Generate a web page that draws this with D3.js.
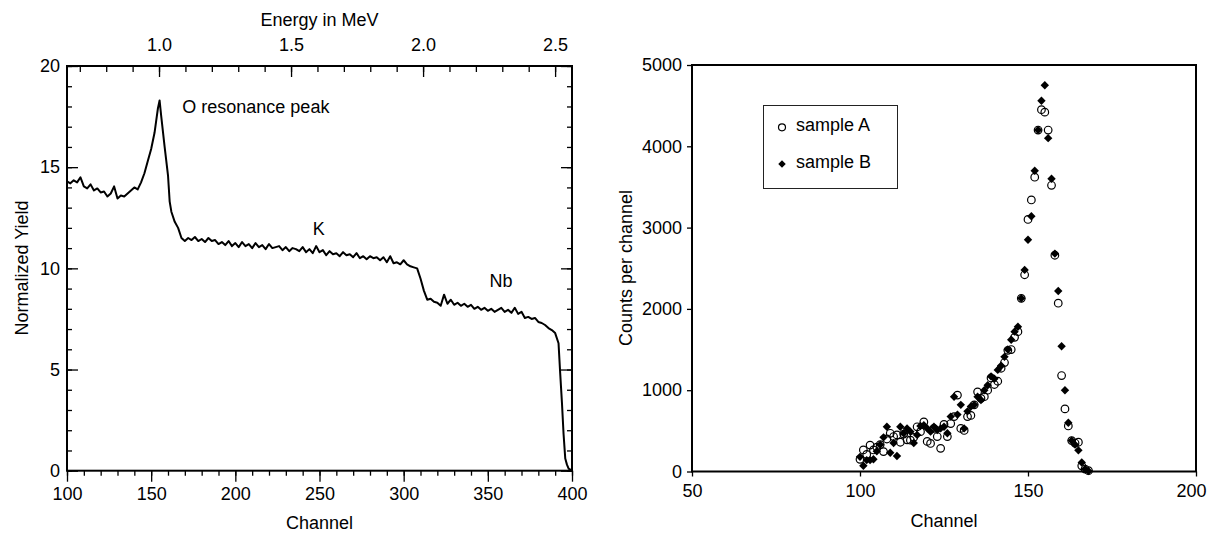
<!DOCTYPE html>
<html>
<head>
<meta charset="utf-8">
<script src="https://cdn.jsdelivr.net/npm/d3@7"></script>
<style>
  body { margin: 0; background: #fff; }
  svg { display: block; }
  text { font-family: "Liberation Sans", Arial, Helvetica, sans-serif; font-size: 18px; fill: #000; }
</style>
</head>
<body>
<svg id="chart" width="1210" height="533"></svg>
<script>
// left panel: normalized yield spectrum
var spectrumChannels = [100,102,104,106,108,110,112,114,116,118,120,122,124,126,128,130,132,134,136,138,
  140,142,144,146,148,150,152,153,154,155,156,158,160,161,162,164,166,168,170,172,174,176,178,180,
  182,184,186,188,190,192,194,196,198,200,202,204,206,208,210,212,214,216,218,220,222,224,226,228,
  230,232,234,236,238,240,242,244,246,248,250,252,254,256,258,260,262,264,266,268,270,272,274,276,
  278,280,282,284,286,288,290,292,294,296,298,300,302,304,306,308,310,312,314,316,318,320,322,324,
  326,328,330,332,334,336,338,340,342,344,346,348,350,352,354,356,358,360,362,364,366,368,370,372,
  374,376,378,380,382,384,386,388,390,392,393,394,395,396,397,398,399,400];
var spectrumYield = [14.3,14.2,14.35,14.25,14.5,14.05,13.95,14.15,13.85,13.95,13.75,13.8,13.55,13.7,14.05,13.45,13.6,13.55,13.7,13.85,
  14.0,13.9,14.25,14.7,15.3,15.9,16.7,17.3,17.9,18.3,17.5,16.0,14.6,13.3,12.8,12.3,12.0,11.5,11.35,11.5,11.4,11.55,11.35,11.45,
  11.3,11.5,11.35,11.4,11.2,11.3,11.15,11.35,11.1,11.25,11.05,11.3,11.1,11.2,11.0,11.25,11.05,11.15,10.95,11.2,11.0,11.05,11.1,10.9,
  11.05,10.85,11.0,10.95,10.85,11.05,10.8,10.95,10.75,11.1,10.8,10.9,10.65,10.85,10.7,10.75,10.6,10.8,10.65,10.7,10.55,10.75,10.5,10.6,
  10.45,10.6,10.5,10.55,10.4,10.55,10.3,10.6,10.25,10.3,10.2,10.4,10.2,10.1,10.05,10.0,9.5,8.9,8.45,8.5,8.35,8.3,8.15,8.7,
  8.25,8.45,8.2,8.3,8.15,8.25,8.1,8.2,8.0,8.1,7.95,8.05,7.9,8.0,7.85,7.95,8.05,7.85,7.95,7.8,8.05,7.75,7.85,7.55,
  7.6,7.5,7.55,7.35,7.3,7.2,7.05,6.95,6.8,6.3,4.8,3.4,1.8,0.6,0.3,0.1,0.05,0.05];
var yieldTicks = [0,5,10,15,20];
var channelTicksLeft = [100,150,200,250,300,350,400];
var energyTicks = [1.0,1.5,2.0,2.5];
var peakLabels = [
  {text: "O resonance peak", channel: 168.5, value: 17.66},
  {text: "K", channel: 246, value: 11.66},
  {text: "Nb", channel: 351, value: 9.09}
];

// right panel: counts per channel for two samples
var sampleChannels = [100,101,102,103,104,105,106,107,108,109,110,111,112,113,114,115,116,117,118,119,
  120,121,122,123,124,125,126,127,128,129,130,131,132,133,134,135,136,137,138,139,140,141,142,143,
  144,145,146,147,148,149,150,151,152,153,154,155,156,157,158,159,160,161,162,163,164,165,166,167,168];
var sampleA = [150,265,210,325,265,300,330,245,400,470,430,450,360,460,390,385,420,550,490,610,
  370,345,530,430,285,580,430,590,675,940,530,505,675,690,820,980,900,920,1000,1150,1070,1110,1270,1340,
  1490,1500,1650,1720,2130,2420,3100,3340,3620,4200,4450,4420,4200,3520,2660,2070,1180,770,560,380,350,360,70,30,10];
var sampleB = [180,70,140,140,150,250,330,420,550,230,350,190,550,470,530,490,350,450,560,570,
  530,490,550,510,530,550,470,675,920,700,820,530,740,800,820,920,880,1000,1060,1170,1140,1250,1300,1410,
  1500,1620,1720,1780,2130,2480,2850,3140,3700,4200,4560,4750,4100,3600,2680,2220,1540,1000,600,380,330,260,110,30,5];
var countTicks = [0,1000,2000,3000,4000,5000];
var channelTicksRight = [50,100,150,200];
var legendNames = ["sample A", "sample B"];

var svg = d3.select("#chart");
var font = '"Liberation Sans", Arial, Helvetica, sans-serif';

function styleAxis(g) {
  g.attr("font-family", font).attr("font-size", 18);
  g.select(".domain").remove();
  g.selectAll(".tick line").attr("stroke", "#000").attr("stroke-width", 1.3);
  g.selectAll(".tick text").attr("fill", "#000");
}

// ---------- left panel ----------
var x1 = d3.scaleLinear().domain([100, 400]).range([67, 572]);
var y1 = d3.scaleLinear().domain([0, 20]).range([470.7, 66]);
var e1 = d3.scaleLinear().domain([0.6515, 2.564]).range([67, 572]);

// minor ticks
svg.append("g").attr("transform", "translate(0,470.7)")
  .call(d3.axisBottom(x1).tickValues(d3.range(100, 401, 10)).tickSize(5).tickFormat(""))
  .call(styleAxis);
svg.append("g").attr("transform", "translate(0,470.7)")
  .call(d3.axisBottom(x1).tickValues(channelTicksLeft).tickSize(11).tickPadding(6).tickFormat(d3.format("d")))
  .call(styleAxis);

svg.append("g").attr("transform", "translate(0,66)")
  .call(d3.axisTop(e1).tickValues(d3.range(0.7, 2.55, 0.1)).tickSize(-6).tickFormat(""))
  .call(styleAxis);
svg.append("g").attr("transform", "translate(0,66)")
  .call(d3.axisTop(e1).tickValues(energyTicks).tickSize(-11).tickPadding(15).tickFormat(d3.format(".1f")))
  .call(styleAxis);

svg.append("g").attr("transform", "translate(67,0)")
  .call(d3.axisLeft(y1).tickValues(d3.range(0, 21, 1)).tickSize(-5).tickFormat(""))
  .call(styleAxis);
svg.append("g").attr("transform", "translate(67,0)")
  .call(d3.axisLeft(y1).tickValues(yieldTicks).tickSize(-11).tickPadding(7).tickFormat(d3.format("d")))
  .call(styleAxis);
svg.append("g").attr("transform", "translate(572,0)")
  .call(d3.axisRight(y1).tickValues(d3.range(0, 21, 1)).tickSize(-5).tickFormat(""))
  .call(styleAxis);
svg.append("g").attr("transform", "translate(572,0)")
  .call(d3.axisRight(y1).tickValues(yieldTicks).tickSize(-11).tickFormat(""))
  .call(styleAxis);

svg.append("rect")
  .attr("x", x1(100)).attr("y", y1(20))
  .attr("width", x1(400) - x1(100)).attr("height", y1(0) - y1(20))
  .attr("fill", "none").attr("stroke", "#000").attr("stroke-width", 2);

var line = d3.line()
  .x(function (d, i) { return x1(spectrumChannels[i]); })
  .y(function (d) { return y1(d); });
svg.append("path").datum(spectrumYield)
  .attr("d", line)
  .attr("fill", "none").attr("stroke", "#000").attr("stroke-width", 2).attr("stroke-linejoin", "round");

svg.selectAll(".peak").data(peakLabels).enter().append("text")
  .attr("class", "peak")
  .attr("x", function (d) { return x1(d.channel); })
  .attr("y", function (d) { return y1(d.value); })
  .text(function (d) { return d.text; });

svg.append("text").attr("x", 319.5).attr("y", 26).attr("text-anchor", "middle").text("Energy in MeV");
svg.append("text").attr("x", 319.5).attr("y", 529).attr("text-anchor", "middle").text("Channel");
svg.append("text").attr("transform", "translate(28,268) rotate(-90)").attr("text-anchor", "middle").text("Normalized Yield");

// ---------- right panel ----------
var x2 = d3.scaleLinear().domain([50, 200]).range([692, 1196]);
var y2 = d3.scaleLinear().domain([0, 5000]).range([471.5, 65]);

svg.append("g").attr("transform", "translate(0,471.5)")
  .call(d3.axisBottom(x2).tickValues(channelTicksRight).tickSize(5).tickPadding(8).tickFormat(d3.format("d")))
  .call(styleAxis)
  .call(function (g) {
    // keep the last label inside the page
    g.selectAll(".tick text").filter(function (d) { return d === 200; }).attr("dx", -5);
  });
svg.append("g").attr("transform", "translate(692,0)")
  .call(d3.axisLeft(y2).tickValues(countTicks).tickSize(5).tickPadding(5).tickFormat(d3.format("d")))
  .call(styleAxis);

svg.append("rect")
  .attr("x", x2(50)).attr("y", y2(5000))
  .attr("width", x2(200) - x2(50)).attr("height", y2(0) - y2(5000))
  .attr("fill", "none").attr("stroke", "#000").attr("stroke-width", 2);

var diamond = d3.symbol().type(d3.symbolDiamond2).size(45);

svg.append("g").selectAll("circle").data(sampleA).enter().append("circle")
  .attr("cx", function (d, i) { return x2(sampleChannels[i]); })
  .attr("cy", function (d) { return y2(d); })
  .attr("r", 3.8)
  .attr("fill", "none").attr("stroke", "#000").attr("stroke-width", 1.2);

svg.append("g").selectAll("path").data(sampleB).enter().append("path")
  .attr("d", diamond)
  .attr("transform", function (d, i) { return "translate(" + x2(sampleChannels[i]) + "," + y2(d) + ")"; })
  .attr("fill", "#000");

// legend
var legend = svg.append("g");
legend.append("rect").attr("x", 763.5).attr("y", 105.5).attr("width", 134).attr("height", 83)
  .attr("fill", "#fff").attr("stroke", "#222").attr("stroke-width", 1);
legend.append("circle").attr("cx", 782).attr("cy", 127.3).attr("r", 3.5)
  .attr("fill", "none").attr("stroke", "#000").attr("stroke-width", 1.2);
legend.append("path").attr("d", d3.symbol().type(d3.symbolDiamond2).size(36))
  .attr("transform", "translate(782,164)").attr("fill", "#000");
legend.selectAll(".lg").data(legendNames).enter().append("text")
  .attr("class", "lg")
  .attr("x", 796)
  .attr("y", function (d, i) { return 131 + i * 36.5; })
  .text(function (d) { return d; });

svg.append("text").attr("x", 944).attr("y", 527).attr("text-anchor", "middle").text("Channel");
svg.append("text").attr("transform", "translate(632,268) rotate(-90)").attr("text-anchor", "middle").text("Counts per channel");
</script>
</body>
</html>
